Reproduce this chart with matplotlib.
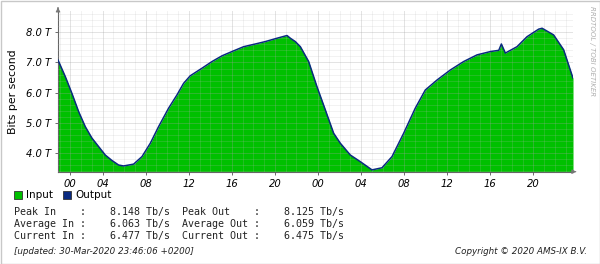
"""AMS-IX style rrdtool traffic graph -> out.png"""
import numpy as np
import matplotlib
matplotlib.use("Agg")
import matplotlib.pyplot as plt
from matplotlib.patches import Rectangle
from matplotlib.ticker import FixedLocator, MultipleLocator

plt.rcParams.update({"font.family": "DejaVu Sans"})

# hours since 29-Mar-2020 00:00 CET (DST jump at 02:00 -> 03:00 CEST)
hours = [-1.14, -0.46, 0.15, 0.77, 1.39, 2.01, 2.63, 3.25, 3.87, 4.49, 4.95, 5.88,
         6.66, 7.43, 8.20, 9.13, 9.91, 10.52, 11.14, 12.23, 13.16, 14.09, 15.01,
         16.09, 17.18, 18.11, 19.19, 20.12, 20.43, 20.89, 21.36, 22.13, 22.9, 23.68,
         24.45, 25.07, 26.0, 26.93, 28.01, 28.94, 29.87, 30.95, 32.03, 32.96, 34.05,
         35.28, 36.52, 37.76, 39.0, 39.78, 40.02, 40.39, 41.47, 42.40, 43.48, 43.80,
         44.87, 45.80, 46.67]
in_tb = [7.08, 6.53, 5.98, 5.38, 4.88, 4.50, 4.22, 3.94, 3.76, 3.61, 3.58, 3.64,
         3.89, 4.33, 4.88, 5.49, 5.93, 6.31, 6.56, 6.81, 7.03, 7.22, 7.36,
         7.52, 7.61, 7.69, 7.80, 7.89, 7.80, 7.69, 7.52, 7.03, 6.20, 5.43,
         4.66, 4.33, 3.94, 3.72, 3.45, 3.52, 3.89, 4.66, 5.49, 6.09, 6.42,
         6.75, 7.03, 7.25, 7.36, 7.40, 7.61, 7.31, 7.52, 7.85, 8.10, 8.13,
         7.91, 7.42, 6.48]
out_tb = in_tb  # output overlays input almost exactly

xtick_pos = [0, 3, 7, 11, 15, 19, 23, 27, 31, 35, 39, 43]
xtick_lab = ["00", "04", "08", "12", "16", "20", "00", "04", "08", "12", "16", "20"]
ytick_pos = [4, 5, 6, 7, 8]
ytick_lab = ["4.0 T", "5.0 T", "6.0 T", "7.0 T", "8.0 T"]

stats = [("Peak In", "8.148", "Peak Out", "8.125"),
         ("Average In", "6.063", "Average Out", "6.059"),
         ("Current In", "6.477", "Current Out", "6.475")]

GREEN, NAVY, GRID = "#00c000", "#0a2a80", "#bababa"
W, H = 600, 264
fig = plt.figure(figsize=(W/100, H/100), dpi=100)
fig.patch.set_facecolor("white")
fig.add_artist(Rectangle((0.5/W, 0.5/H), 1-1/W, 1-1/H, transform=fig.transFigure,
                         fill=False, ec="#c8c8c8", lw=1))

L, R, B, T = 58, 573, 171.7, 11
ax = fig.add_axes([L/W, 1-B/H, (R-L)/W, (B-T)/H])
ax.fill_between(hours, 0, in_tb, color=GREEN, lw=0, zorder=1)
ax.plot(hours, out_tb, color=NAVY, lw=1.1, zorder=4)
ax.set_xlim(hours[0], hours[-1]); ax.set_ylim(3.39, 8.70)

# grid over the area, like rrdtool
ax.set_axisbelow(False)
ax.xaxis.set_major_locator(FixedLocator(xtick_pos))
ax.xaxis.set_minor_locator(MultipleLocator(1))
ax.yaxis.set_major_locator(FixedLocator(ytick_pos))
ax.yaxis.set_minor_locator(MultipleLocator(0.2))
ax.grid(which="minor", color=GRID, alpha=0.22, lw=0.6, zorder=2)
ax.grid(which="major", color="#a0a0a0", alpha=0.3, lw=0.7, zorder=2)
ax.set_xticklabels(xtick_lab, fontsize=7.2, style="italic")
ax.set_yticklabels(ytick_lab, fontsize=7.2, style="italic")
ax.tick_params(which="major", length=2, width=0.6, color="#555555", pad=3)
ax.tick_params(which="minor", length=0)
for sp in ("top", "right"): ax.spines[sp].set_visible(False)
for sp in ("left", "bottom"): ax.spines[sp].set_color("#666666"); ax.spines[sp].set_linewidth(0.8)
ax.set_ylabel("Bits per second", fontsize=7.8, labelpad=6)
ax.annotate("", xy=(1.012, 0), xytext=(1.0, 0), xycoords="axes fraction",
            arrowprops=dict(arrowstyle="-|>", color="#777777", lw=0.8, mutation_scale=6))
ax.annotate("", xy=(0, 1.04), xytext=(0, 1.0), xycoords="axes fraction",
            arrowprops=dict(arrowstyle="-|>", color="#777777", lw=0.8, mutation_scale=6))

fig.text(592/W, 1-6/H, "RRDTOOL / TOBI OETIKER", rotation=270, fontsize=5, color="#b0b0b0",
         ha="center", va="top", style="italic")

# legend
for x0, col, lab in [(14, GREEN, "Input"), (63, NAVY, "Output")]:
    fig.add_artist(Rectangle((x0/W, 1-198.5/H), 8/W, 8/H, transform=fig.transFigure,
                             fc=col, ec="#333333", lw=0.6))
    fig.text((x0+12)/W, 1-194.5/H, lab, fontsize=7.5, va="center", ha="left")

for i, (a, av, b, bv) in enumerate(stats):
    line = f"{a:<11}:    {av} Tb/s  {b:<12}:    {bv} Tb/s"
    fig.text(14/W, 1-(212+12*i)/H, line, family="DejaVu Sans Mono", fontsize=7.2,
             va="center", ha="left", color="#222222")

fig.text(14/W, 1-252/H, "[updated: 30-Mar-2020 23:46:06 +0200]", fontsize=6.3,
         style="italic", va="center", ha="left", color="#222222")
fig.text(587/W, 1-252/H, "Copyright \u00a9 2020 AMS-IX B.V.", fontsize=6.3,
         style="italic", va="center", ha="right", color="#222222")

fig.savefig("out.png", dpi=100)
print("out.png")
